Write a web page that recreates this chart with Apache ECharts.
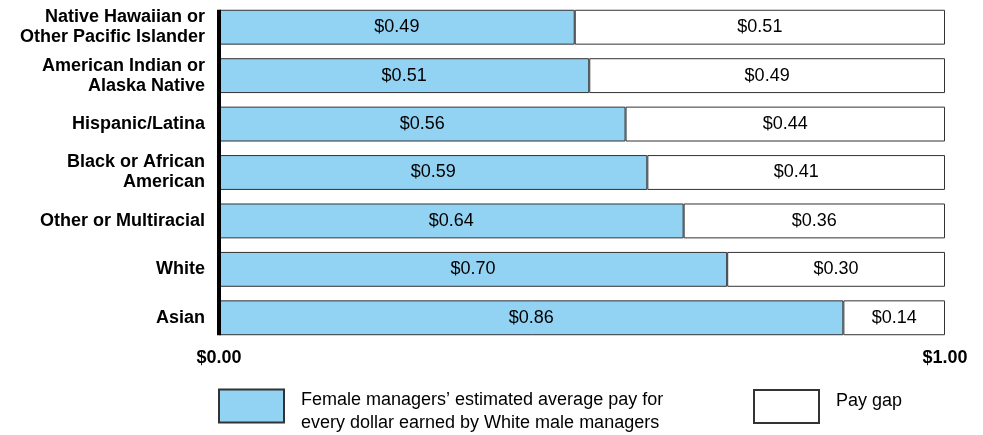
<!DOCTYPE html>
<html>
<head>
<meta charset="utf-8">
<script src="https://cdn.jsdelivr.net/npm/echarts@6/dist/echarts.min.js"></script>
<style>
  html, body { margin: 0; padding: 0; background: #fff; }
  #main { width: 983px; height: 435px; }
</style>
</head>
<body>
<div id="main"></div>
<script>
var myChart = echarts.init(document.getElementById("main"));

const groups = [
  "Native Hawaiian or\nOther Pacific Islander",
  "American Indian or\nAlaska Native",
  "Hispanic/Latina",
  "Black or African\nAmerican",
  "Other or Multiracial",
  "White",
  "Asian",
];
const femalePay = [0.49, 0.51, 0.56, 0.59, 0.64, 0.70, 0.86];
const payGap = [0.51, 0.49, 0.44, 0.41, 0.36, 0.30, 0.14];
const xTicks = [0, 1];

const femaleName = "Female managers\u2019 estimated average pay for\nevery dollar earned by White male managers";
const gapName = "Pay gap";
const fontFamily = "'Liberation Sans', Arial, sans-serif";
const barGap = 0.28;

function money(v) {
  return "$" + Number(v).toFixed(2);
}

option = {
  animation: false,
  textStyle: { fontFamily: fontFamily },
  grid: { left: 219, right: 38, top: 3, height: 339 },
  legend: [
    {
      data: [femaleName],
      left: 218,
      top: 377,
      padding: 0,
      icon: "rect",
      itemWidth: 65,
      itemHeight: 33,
      selectedMode: false,
      // small spacer line on top pushes the two text lines a little below the swatch centre
      formatter: function (name) {
        return "{s| }\n" + name;
      },
      textStyle: {
        fontSize: 18,
        color: "#000",
        lineHeight: 23,
        padding: [0, 0, 0, 12],
        rich: {
          s: { fontSize: 1, height: 12, lineHeight: 12 },
        },
      },
    },
    {
      data: [gapName],
      left: 753,
      top: 389,
      padding: 0,
      icon: "rect",
      itemWidth: 65,
      itemHeight: 33,
      selectedMode: false,
      formatter: function (name) {
        return "{a|" + name + "}";
      },
      textStyle: {
        fontSize: 18,
        color: "#000",
        padding: [0, 0, 0, 12],
        rich: {
          a: { fontSize: 18, color: "#000", height: 23, lineHeight: 23, padding: [0, 0, 11, 0], fontFamily: fontFamily },
        },
      },
    },
  ],
  xAxis: {
    type: "value",
    min: xTicks[0],
    max: xTicks[xTicks.length - 1],
    interval: 1,
    axisLine: { show: false },
    axisTick: { show: false },
    splitLine: { show: false },
    axisLabel: {
      margin: 7,
      fontSize: 18,
      fontWeight: "bold",
      color: "#000",
      formatter: money,
    },
  },
  yAxis: {
    type: "category",
    inverse: true,
    data: groups,
    axisLine: { show: false },
    axisTick: { show: false },
    axisLabel: {
      margin: 14,
      fontSize: 18,
      fontWeight: "bold",
      color: "#000",
      lineHeight: 20,
    },
  },
  series: [
    {
      name: femaleName,
      type: "bar",
      stack: "total",
      data: femalePay,
      barCategoryGap: barGap * 100 + "%",
      itemStyle: { color: "#92d2f2", borderColor: "#333", borderWidth: 1 },
      label: {
        show: true,
        position: "inside",
        fontSize: 18,
        color: "#000",
        formatter: function (p) { return money(p.value); },
      },
    },
    {
      name: gapName,
      type: "bar",
      stack: "total",
      data: payGap,
      itemStyle: { color: "#fff", borderColor: "#333", borderWidth: 1 },
      label: {
        show: true,
        position: "inside",
        fontSize: 18,
        color: "#000",
        formatter: function (p) { return money(p.value); },
      },
    },
    {
      // thick black baseline running from the first bar's top to the last bar's bottom
      type: "custom",
      data: [[0, 0]],
      silent: true,
      z: 5,
      renderItem: function (params, api) {
        const first = api.coord([0, 0]);
        const last = api.coord([0, groups.length - 1]);
        const half = api.size([0, 1])[1] * (1 - barGap) / 2;
        return {
          type: "line",
          shape: { x1: first[0], y1: first[1] - half, x2: last[0], y2: last[1] + half },
          style: { stroke: "#000", lineWidth: 4 },
        };
      },
    },
  ],
};

myChart.setOption(option);
</script>
</body>
</html>
